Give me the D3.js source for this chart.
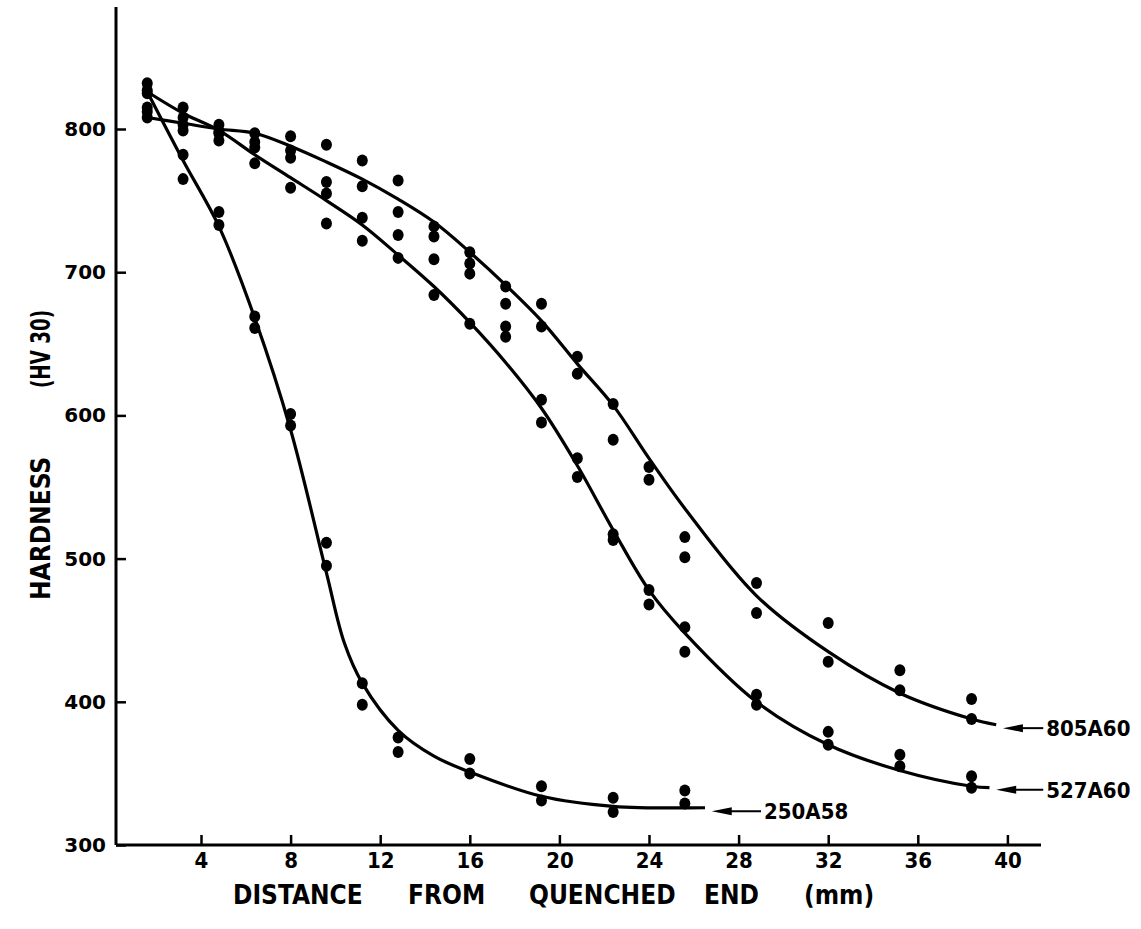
<!DOCTYPE html>
<html>
<head>
<meta charset="utf-8">
<script src="https://cdn.jsdelivr.net/npm/d3@7"></script>
<style>
  body { margin: 0; background: #fff; }
  svg { display: block; }
  .tick line { stroke: #000; stroke-width: 2.5; }
  .xlab { font-family: "Liberation Sans Narrow", "DejaVu Sans Condensed", sans-serif; font-weight: bold; }
  .ylab { font-family: "DejaVu Sans", sans-serif; font-weight: bold; }
</style>
</head>
<body>
<div id="chart"></div>
<script>
// Jominy positions (mm from quenched end)
var distances = [1.6, 3.2, 4.8, 6.4, 8, 9.6, 11.2, 12.8, 14.4, 16, 17.6, 19.2, 20.8, 22.4, 24, 25.6, 28.8, 32, 35.2, 38.4];

// measured hardness, two readings per position (null = not measured)
var hv250A58 = [[825, 815], [782, 765], [742, 733], [669, 661], [601, 593], [511, 495], [413, 398], [375, 365], null, [360, 350],
  null, [341, 331], null, [333, 323], null, [338, 329], null, null, null, null];
var hv527A60 = [[832, 827], [815, 808], [797, 792], [787, 776], [780, 759], [755, 734], [738, 722], [726, 710], [709, 684], [699, 664],
  [662, 655], [611, 595], [570, 557], [517, 513], [478, 468], [452, 435], [405, 398], [379, 370], [363, 355], [348, 340]];
var hv805A60 = [[808, 812], [803, 799], [803, 798], [797, 791], [795, 785], [789, 763], [778, 760], [764, 742], [732, 725], [714, 706],
  [690, 678], [678, 662], [641, 629], [608, 583], [564, 555], [515, 501], [483, 462], [455, 428], [422, 408], [402, 388]];

// hand-drawn fitted curves
var fit250A58 = { d: [1.6, 3.2, 4.8, 6.4, 8, 9.6, 10.4, 11.2, 12.8, 14.4, 16, 19.2, 22.4, 26.5],
                  hv: [826, 778, 732, 668, 590, 490, 441, 413, 380, 362, 351, 334, 327, 326] };
var fit527A60 = { d: [1.6, 3.2, 4.8, 6.4, 8, 9.6, 11.2, 12.8, 14.4, 16, 17.6, 19.2, 20.8, 22.4, 24, 25.6, 28.8, 32, 35.2, 38.4, 39.2],
                  hv: [826, 811, 799, 782, 766, 750, 733, 712, 690, 665, 637, 605, 565, 520, 478, 448, 400, 370, 352, 341, 340] };
var fit805A60 = { d: [1.6, 3.2, 4.8, 6.4, 8, 9.6, 11.2, 12.8, 14.4, 16, 17.6, 19.2, 20.8, 22.4, 24, 25.6, 28.8, 32, 35.2, 38.4, 39.5],
                  hv: [808, 804, 800, 797, 788, 777, 765, 751, 735, 714, 691, 666, 636, 607, 570, 535, 474, 435, 406, 388, 384] };

var xTicks = [4, 8, 12, 16, 20, 24, 28, 32, 36, 40];
var yTicks = [300, 400, 500, 600, 700, 800];

var width = 1141, height = 929;

var svg = d3.select('#chart').append('svg')
  .attr('width', width)
  .attr('height', height);

var x = d3.scaleLinear().domain([0, 40]).range([111.4, 1007.4]);
var y = d3.scaleLinear().domain([300, 800]).range([845, 129]);

// axis lines
svg.append('line')
  .attr('x1', 116).attr('x2', 116)
  .attr('y1', 7).attr('y2', y(300))
  .attr('stroke', '#000').attr('stroke-width', 3);
svg.append('line')
  .attr('x1', 116).attr('x2', x(41.5))
  .attr('y1', y(300)).attr('y2', y(300))
  .attr('stroke', '#000').attr('stroke-width', 3);

var xAxis = d3.axisBottom(x).tickValues(xTicks).tickSize(-10).tickPadding(7).tickSizeOuter(0);
var gx = svg.append('g').attr('transform', 'translate(0,' + y(300) + ')').call(xAxis);
gx.select('.domain').remove();
gx.selectAll('text').attr('class', 'xlab').attr('font-size', 22).attr('fill', '#000').attr('dy', '0.72em');

var yAxis = d3.axisLeft(y).tickValues(yTicks).tickSize(-10).tickPadding(10).tickSizeOuter(0);
var gy = svg.append('g').attr('transform', 'translate(116,0)').call(yAxis);
gy.select('.domain').remove();
gy.selectAll('text').attr('class', 'ylab').attr('font-size', 20).attr('fill', '#000');

// axis titles
var xTitle = svg.append('text').attr('class', 'xlab').attr('font-size', 26).attr('y', 904).attr('fill', '#000');
[['DISTANCE', 233], ['FROM', 408], ['QUENCHED', 529], ['END', 704], ['(mm)', 804]].forEach(function (w) {
  xTitle.append('tspan').attr('x', w[1]).text(w[0]);
});

var yTitle = svg.append('text').attr('class', 'xlab').attr('font-size', 26)
  .attr('transform', 'translate(50,600) rotate(-90)').attr('fill', '#000');
yTitle.append('tspan').attr('x', 0).text('HARDNESS');
yTitle.append('tspan').attr('x', 212).attr('textLength', 78).attr('lengthAdjust', 'spacingAndGlyphs').text('(HV 30)');

// curves
var line = d3.line()
  .x(function (d) { return x(d[0]); })
  .y(function (d) { return y(d[1]); })
  .curve(d3.curveCatmullRom.alpha(0.5));

[fit250A58, fit527A60, fit805A60].forEach(function (f) {
  svg.append('path')
    .datum(f.d.map(function (d, i) { return [d, f.hv[i]]; }))
    .attr('d', line)
    .attr('fill', 'none')
    .attr('stroke', '#000')
    .attr('stroke-width', 3.2);
});

// points
var pts = [];
[hv250A58, hv527A60, hv805A60].forEach(function (s) {
  s.forEach(function (pair, i) {
    if (!pair) return;
    pair.forEach(function (v) { pts.push([distances[i], v]); });
  });
});
svg.selectAll('ellipse.pt').data(pts).enter().append('ellipse')
  .attr('class', 'pt')
  .attr('cx', function (d) { return x(d[0]); })
  .attr('cy', function (d) { return y(d[1]); })
  .attr('rx', 5.5).attr('ry', 6)
  .attr('fill', '#000');

// labels with arrows
var labels = [
  { name: '250A58', tip: 26.8, tail: 29.0, hv: 325 },
  { name: '527A60', tip: 39.5, tail: 41.6, hv: 340 },
  { name: '805A60', tip: 39.8, tail: 41.6, hv: 383 }
];
labels.forEach(function (l) {
  var yy = y(l.hv) + 2;
  svg.append('line')
    .attr('x1', x(l.tip) + 12).attr('x2', x(l.tail))
    .attr('y1', yy).attr('y2', yy)
    .attr('stroke', '#000').attr('stroke-width', 2);
  svg.append('path')
    .attr('d', 'M' + x(l.tip) + ',' + yy + 'L' + (x(l.tip) + 20) + ',' + (yy - 4) + 'L' + (x(l.tip) + 20) + ',' + (yy + 4) + 'Z')
    .attr('fill', '#000');
  svg.append('text')
    .attr('class', 'xlab')
    .attr('x', x(l.tail) + 3)
    .attr('y', yy + 8)
    .attr('font-size', 22)
    .attr('fill', '#000')
    .text(l.name);
});
</script>
</body>
</html>
